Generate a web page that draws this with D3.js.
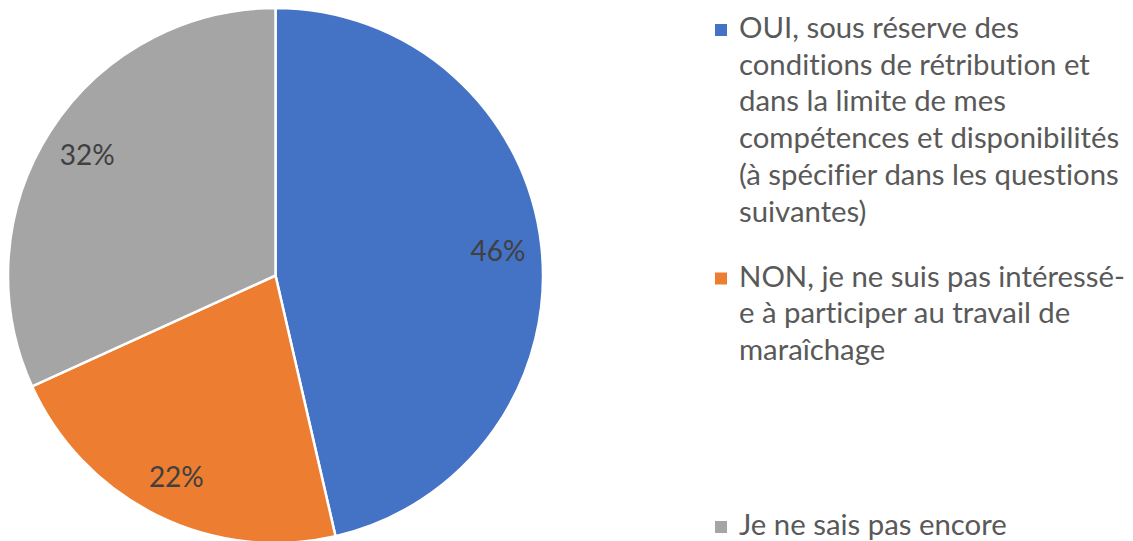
<!DOCTYPE html>
<html>
<head>
<meta charset="utf-8">
<script src="https://cdn.jsdelivr.net/npm/d3@7"></script>
<style>
  html, body { margin: 0; padding: 0; background: #fff; }
  svg { display: block; }
  text { font-variant-ligatures: none; font-feature-settings: "liga" 0, "clig" 0; }
</style>
</head>
<body>
<svg id="chart" width="1133" height="541"></svg>
<script>
// ---- data ----
const categories = [
  "OUI, sous réserve des conditions de rétribution et dans la limite de mes compétences et disponibilités (à spécifier dans les questions suivantes)",
  "NON, je ne suis pas intéressé-e à participer au travail de maraîchage",
  "Je ne sais pas encore"
];
const values = [46.4, 21.8, 31.8];
const legendLines = [
  ["OUI, sous réserve des", "conditions de rétribution et", "dans la limite de mes", "compétences et disponibilités", "(à spécifier dans les questions", "suivantes)"],
  ["NON, je ne suis pas intéressé-", "e à participer au travail de", "maraîchage"],
  ["Je ne sais pas encore"]
];
const colors = ["#4472C4", "#ED7D31", "#A5A5A5"];

// ---- layout ----
const svg = d3.select("#chart");
const cx = 275.5, cy = 275.5, R = 267.5, labelR = 224;
const fontFam = "Lato, 'Open Sans', sans-serif";

const pie = d3.pie().sort(null).value(d => d)(values);
const arc = d3.arc().innerRadius(0).outerRadius(R);
const labelArc = d3.arc().innerRadius(labelR).outerRadius(labelR);
const total = d3.sum(values);
const color = d3.scaleOrdinal().domain(d3.range(values.length)).range(colors);

const g = svg.append("g").attr("transform", `translate(${cx},${cy})`);
g.selectAll("path.slice").data(pie).join("path")
  .attr("class", "slice")
  .attr("d", arc)
  .attr("fill", (d, i) => color(i))
  .attr("stroke", "#fff")
  .attr("stroke-width", 2.5)
  .attr("stroke-linejoin", "round");

g.selectAll("text.lbl").data(pie).join("text")
  .attr("class", "lbl")
  .attr("x", d => labelArc.centroid(d)[0])
  .attr("y", d => labelArc.centroid(d)[1])
  .attr("text-anchor", "middle")
  .attr("dominant-baseline", "central")
  .attr("font-family", fontFam)
  .attr("font-size", 28)
  .attr("fill", "#404040")
  .text(d => d3.format(".0%")(d.value / total));

// ---- legend ----
const legendX = 739, markerX = 715, markerSize = 12;
const lineH = 36.7;
const itemY = d3.scaleLinear().domain([0, legendLines.length - 1]).range([38, 535]);

const leg = svg.append("g");
const items = leg.selectAll("g.item").data(legendLines).join("g").attr("class", "item");
items.append("rect")
  .attr("x", markerX)
  .attr("y", (d, i) => itemY(i) - 14)
  .attr("width", markerSize).attr("height", markerSize)
  .attr("fill", (d, i) => color(i));
const texts = items.append("text")
  .attr("font-family", fontFam)
  .attr("fill", "#595959")
  .attr("font-size", 28);
texts.selectAll("tspan").data((d, i) => d.map((t, j) => ({t, y: itemY(i) + j * lineH})))
  .join("tspan")
  .attr("x", legendX)
  .attr("y", d => d.y)
  .text(d => d.t);

// fit legend font size so the widest line spans ~386px
let maxW = 0;
texts.selectAll("tspan").each(function() { maxW = Math.max(maxW, this.getComputedTextLength()); });
const fs = 28 * 386 / maxW;
texts.attr("font-size", fs);
</script>
</body>
</html>
